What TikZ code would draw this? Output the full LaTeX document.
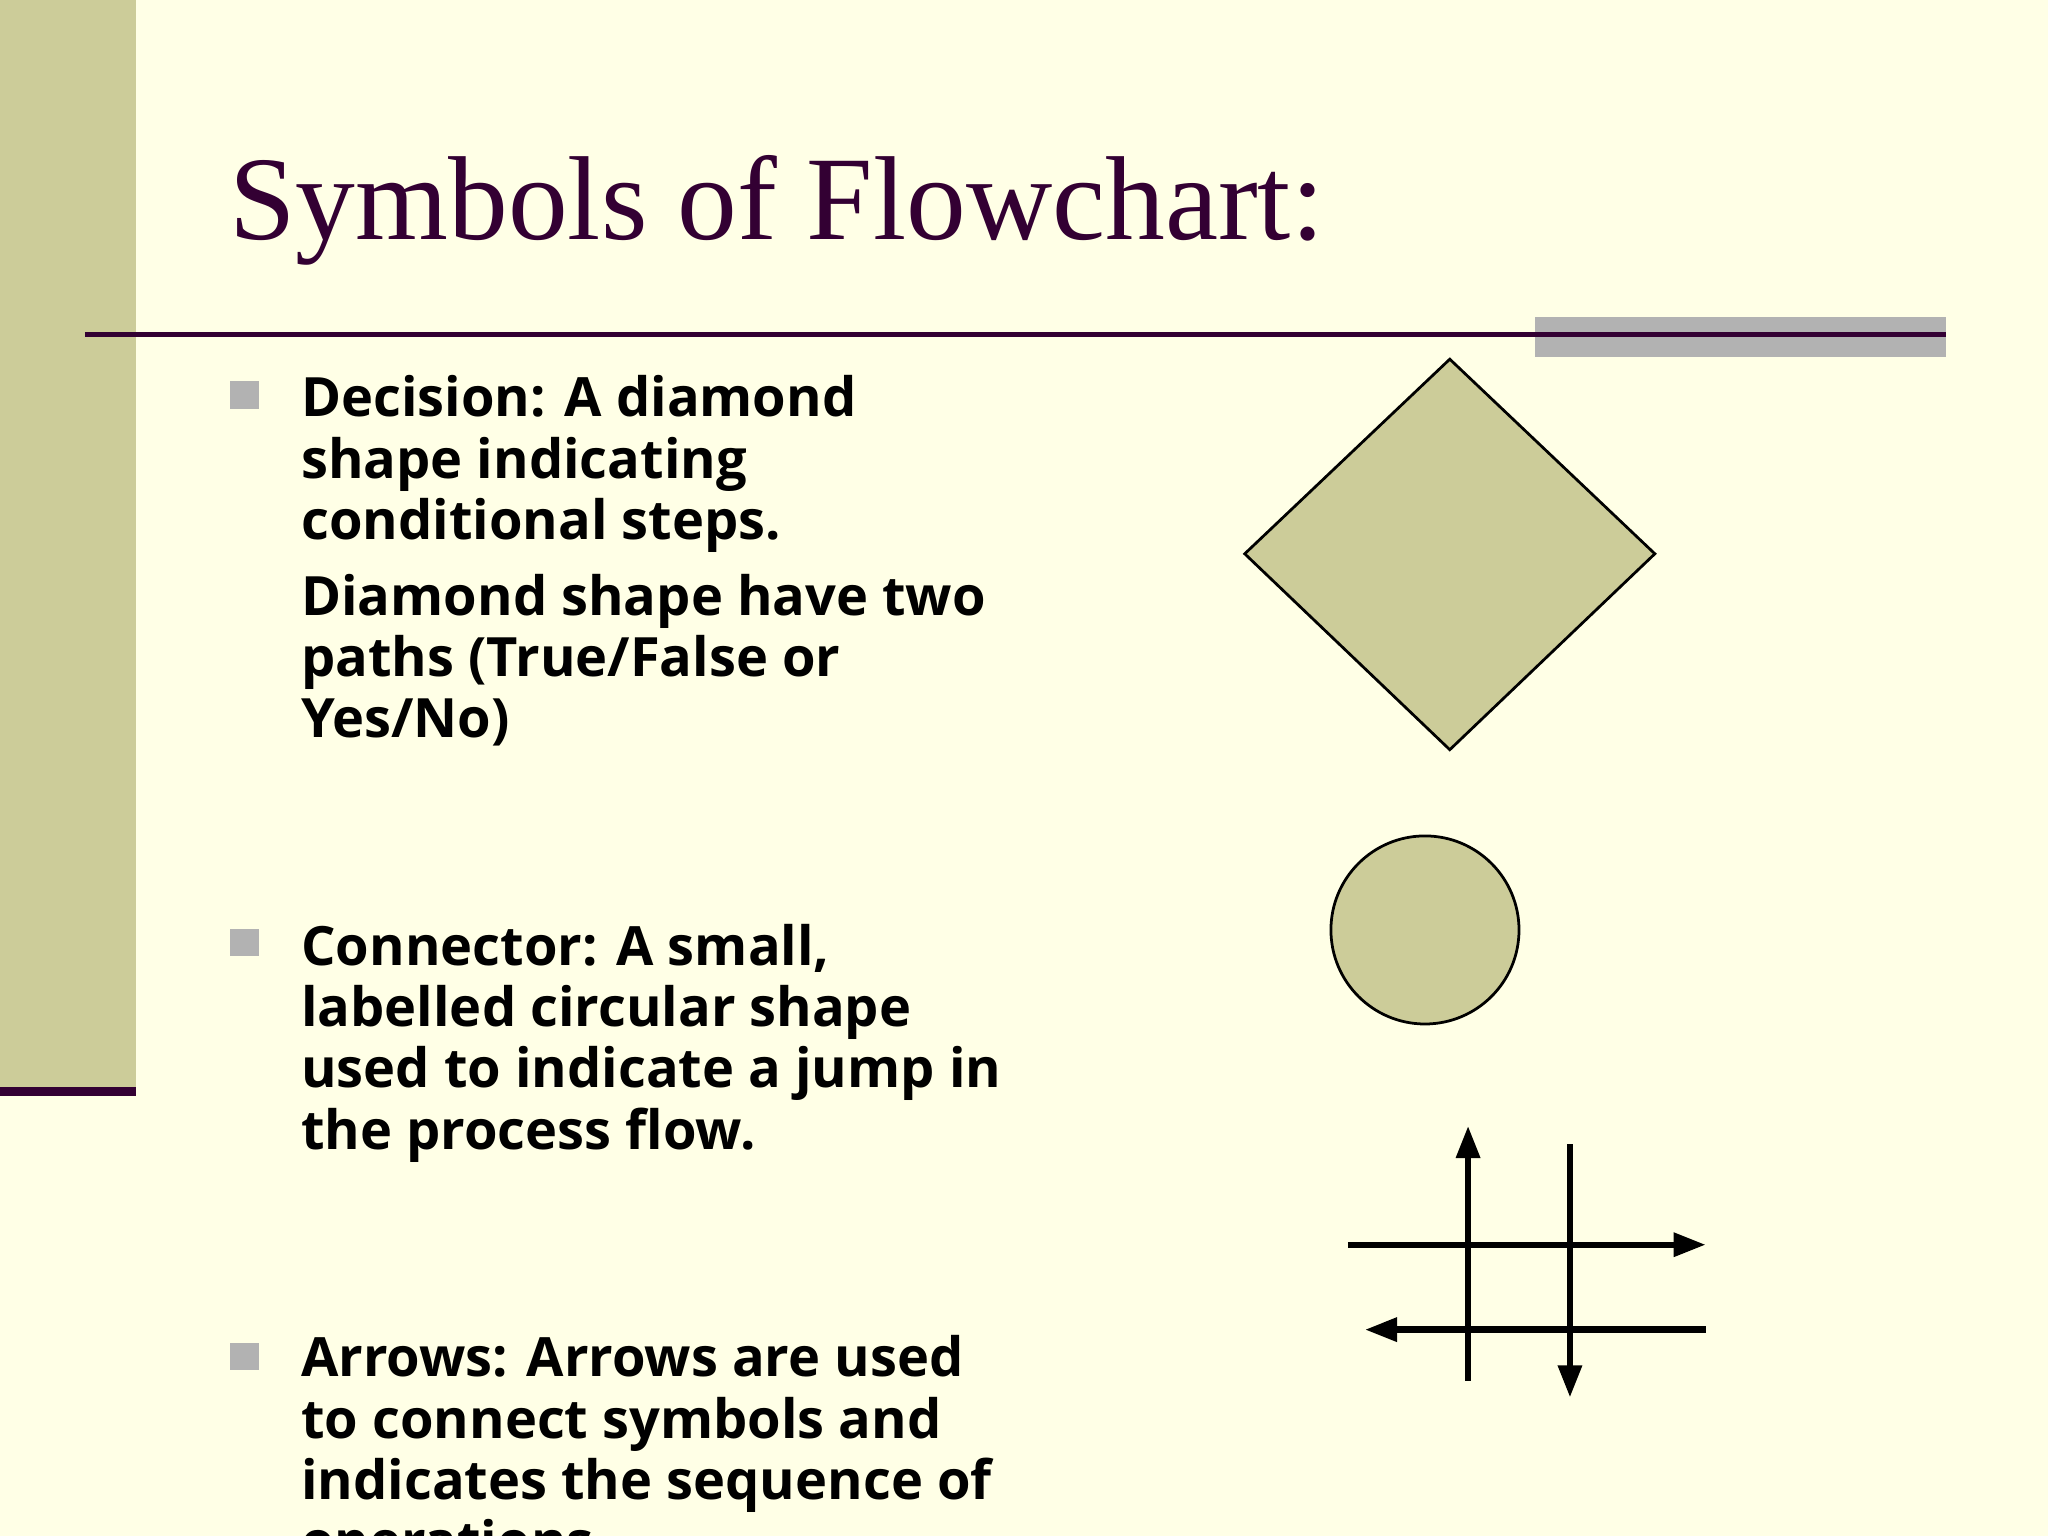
\documentclass[tikz,border=0pt]{standalone}
\usepackage{fontspec}
\setmainfont{Liberation Serif}
\newfontfamily\bodyf{Open Sans}
\usetikzlibrary{arrows.meta}
\definecolor{cream}{HTML}{FFFFE6}
\definecolor{olive}{HTML}{CCCC99}
\definecolor{plum}{HTML}{330033}
\tikzset{
 txt/.style={anchor=base west,inner sep=0pt,font=\bodyf\bfseries\fontsize{11.8}{14}\selectfont},
 bul/.style={fill=gray!60,draw=none},
 shp/.style={fill=olive,draw=black,line width=0.6pt},
 arr/.style={line width=1.4pt,-{Triangle[length=7pt,width=5pt]}}
}
\begin{document}
\begin{tikzpicture}[x=0.01cm,y=-0.01cm]
\useasboundingbox (0,0) rectangle (1568,1176);
\clip (0,0) rectangle (1568,1176);
\fill[cream] (0,0) rectangle (1568,1176);
\fill[olive] (0,0) rectangle (104,832);
\fill[plum] (0,832) rectangle (104,839);
\node[anchor=base west,inner sep=0pt,text=plum,font=\fontsize{26}{30}\selectfont] (title) at (175,183) {Symbols of Flowchart:};
\fill[gray!60] (1175,243) rectangle (1490,273);
\draw[plum,line width=1.2pt] (65,256) -- (1490,256);
\fill[bul] (176,292) rectangle (198,313);
\fill[bul] (176,711) rectangle (198,732);
\fill[bul] (176,1028) rectangle (198,1049);
\node[txt] (t1) at (230,319) {Decision: A diamond};
\node[txt] (t2) at (230,366) {shape indicating};
\node[txt] (t3) at (230,413) {conditional steps.};
\node[txt] (t4) at (230,471) {Diamond shape have two};
\node[txt] (t5) at (230,518) {paths (True/False or};
\node[txt] (t6) at (230,565) {Yes/No)};
\node[txt] (t7) at (230,739) {Connector: A small,};
\node[txt] (t8) at (230,786) {labelled circular shape};
\node[txt] (t9) at (230,833) {used to indicate a jump in};
\node[txt] (t10) at (230,880) {the process flow.};
\node[txt] (t11) at (230,1054) {Arrows: Arrows are used};
\node[txt] (t12) at (230,1101) {to connect symbols and};
\node[txt] (t13) at (230,1148) {indicates the sequence of};
\node[txt] (t14) at (230,1195) {operations.};
\draw[shp] (1110,275) -- (1267,424) -- (1110,574) -- (953,424) -- cycle;
\draw[shp] (1091,712) circle (72);
\coordinate (a1) at (1124,1057); \coordinate (a2) at (1124,862);
\coordinate (b1) at (1202,876); \coordinate (b2) at (1202,1070);
\coordinate (c1) at (1032,953); \coordinate (c2) at (1306,953);
\coordinate (d1) at (1306,1018); \coordinate (d2) at (1045,1018);
\draw[arr] (a1) -- (a2);
\draw[arr] (b1) -- (b2);
\draw[arr] (c1) -- (c2);
\draw[arr] (d1) -- (d2);
\end{tikzpicture}
\end{document}
